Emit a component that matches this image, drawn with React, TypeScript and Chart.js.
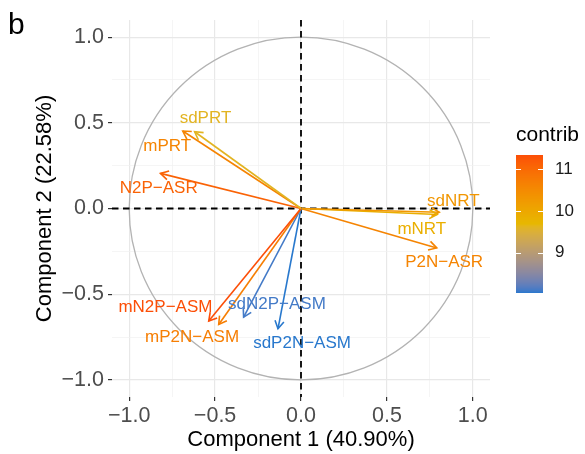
import React, { useEffect, useRef } from "react";
import { Chart, registerables } from "chart.js";
Chart.register(...registerables);

// ---- data ----
const variables = ["sdPRT", "mPRT", "N2P−ASR", "mN2P−ASM", "mP2N−ASM", "sdN2P−ASM", "sdP2N−ASM", "sdNRT", "mNRT", "P2N−ASR"];
const dim1 = [-0.619, -0.688, -0.818, -0.537, -0.479, -0.334, -0.134, 0.805, 0.793, 0.79];
const dim2 = [0.448, 0.452, 0.205, -0.657, -0.677, -0.634, -0.702, -0.022, -0.035, -0.23];
const contrib = [9.6, 10.6, 11.1, 11.34, 10.7, 8.1, 8.03, 10.3, 9.85, 10.6];
const labelX = [-0.556, -0.779, -0.828, -0.789, -0.634, -0.14, 0.006, 0.887, 0.703, 0.833];
const labelY = [0.526, 0.36, 0.117, -0.579, -0.754, -0.56, -0.789, 0.044, -0.121, -0.312];
const gridValues = [-1, -0.75, -0.5, -0.25, 0, 0.25, 0.5, 0.75, 1];
const legendTicks = [9, 10, 11];
const gradientCols = ["#2878CD", "#E7B800", "#FC4E07"];
const xTitle = "Component 1 (40.90%)";
const yTitle = "Component 2 (22.58%)";
const panelTag = "b";
const legendTitle = "contrib";

const FONT = "'Liberation Sans', Arial, Helvetica, sans-serif";

// ---- Lab colour interpolation ----
function hexToRgb(h: string) {
  const n = parseInt(h.slice(1), 16);
  return [(n >> 16) & 255, (n >> 8) & 255, n & 255];
}
const toLin = (c: number) => { c /= 255; return c <= 0.04045 ? c / 12.92 : Math.pow((c + 0.055) / 1.055, 2.4); };
const fromLin = (c: number) => {
  const v = c <= 0.0031308 ? 12.92 * c : 1.055 * Math.pow(c, 1 / 2.4) - 0.055;
  return Math.round(Math.max(0, Math.min(1, v)) * 255);
};
function rgbToLab(rgb: number[]) {
  const [R, G, B] = rgb.map(toLin);
  const X = (0.4124 * R + 0.3576 * G + 0.1805 * B) / 0.95047;
  const Y = 0.2126 * R + 0.7152 * G + 0.0722 * B;
  const Z = (0.0193 * R + 0.1192 * G + 0.9505 * B) / 1.08883;
  const f = (t: number) => (t > 0.008856 ? Math.cbrt(t) : 7.787 * t + 16 / 116);
  const fx = f(X), fy = f(Y), fz = f(Z);
  return [116 * fy - 16, 500 * (fx - fy), 200 * (fy - fz)];
}
function labToRgb(lab: number[]) {
  const [L, a, b] = lab;
  const fy = (L + 16) / 116, fx = fy + a / 500, fz = fy - b / 200;
  const fi = (t: number) => (t * t * t > 0.008856 ? t * t * t : (t - 16 / 116) / 7.787);
  const X = fi(fx) * 0.95047, Y = fi(fy), Z = fi(fz) * 1.08883;
  const R = 3.2406 * X - 1.5372 * Y - 0.4986 * Z;
  const G = -0.9689 * X + 1.8758 * Y + 0.0415 * Z;
  const B2 = 0.0557 * X - 0.204 * Y + 1.057 * Z;
  return `rgb(${fromLin(R)},${fromLin(G)},${fromLin(B2)})`;
}
const labStops = gradientCols.map((c) => rgbToLab(hexToRgb(c)));
const cMin = Math.min(...contrib);
const cMax = Math.max(...contrib);
function colorFor(v: number) {
  let t = (v - cMin) / (cMax - cMin);
  t = Math.max(0, Math.min(1, t));
  const seg = t < 0.5 ? 0 : 1;
  const lt = t < 0.5 ? t / 0.5 : (t - 0.5) / 0.5;
  const A = labStops[seg], B = labStops[seg + 1];
  return labToRgb([A[0] + (B[0] - A[0]) * lt, A[1] + (B[1] - A[1]) * lt, A[2] + (B[2] - A[2]) * lt]);
}

const fmt = (v: number) => (Math.abs(v) < 1e-9 ? "0.0" : (v < 0 ? "−" : "") + Math.abs(v).toFixed(1));
const isMajor = (v: number) => Math.abs(v * 2 - Math.round(v * 2)) < 1e-9;

const decorPlugin = {
  id: "decor",
  beforeDatasetsDraw(chart: any) {
    const { ctx, chartArea: ca, scales } = chart;
    const xs = scales.x, ys = scales.y;
    const cx = xs.getPixelForValue(0), cy = ys.getPixelForValue(0);
    const rx = xs.getPixelForValue(1) - cx, ry = cy - ys.getPixelForValue(1);
    ctx.save();
    ctx.strokeStyle = "#b3b3b3";
    ctx.lineWidth = 1.3;
    ctx.beginPath();
    ctx.ellipse(cx, cy, rx, ry, 0, 0, Math.PI * 2);
    ctx.stroke();
    ctx.strokeStyle = "#000";
    ctx.lineWidth = 1.8;
    ctx.setLineDash([6.5, 4.5]);
    ctx.beginPath();
    ctx.moveTo(ca.left, cy);
    ctx.lineTo(ca.right, cy);
    ctx.moveTo(cx, ca.top);
    ctx.lineTo(cx, ca.bottom);
    ctx.stroke();
    ctx.restore();
  },
  afterDatasetsDraw(chart: any) {
    const { ctx, scales } = chart;
    ctx.save();
    chart.data.datasets.forEach((ds: any, i: number) => {
      const meta = chart.getDatasetMeta(i);
      const p0 = meta.data[0], p1 = meta.data[1];
      const ang = Math.atan2(p1.y - p0.y, p1.x - p0.x);
      const L = 9, a = Math.PI / 6;
      ctx.strokeStyle = ds.borderColor;
      ctx.lineWidth = 1.6;
      ctx.beginPath();
      ctx.moveTo(p1.x - L * Math.cos(ang - a), p1.y - L * Math.sin(ang - a));
      ctx.lineTo(p1.x, p1.y);
      ctx.lineTo(p1.x - L * Math.cos(ang + a), p1.y - L * Math.sin(ang + a));
      ctx.stroke();
    });
    ctx.font = `17px ${FONT}`;
    ctx.textAlign = "center";
    ctx.textBaseline = "middle";
    variables.forEach((name, i) => {
      ctx.fillStyle = colorFor(contrib[i]);
      ctx.fillText(name, scales.x.getPixelForValue(labelX[i]), scales.y.getPixelForValue(labelY[i]));
    });
    ctx.restore();
  },
  afterDraw(chart: any) {
    const { ctx, chartArea: ca } = chart;
    ctx.save();
    // panel tag
    ctx.fillStyle = "#000";
    ctx.font = `30px ${FONT}`;
    ctx.textAlign = "left";
    ctx.textBaseline = "alphabetic";
    ctx.fillText(panelTag, 8, 34);
    // legend
    const bx = ca.right + 26, bw = 27, bTop = 155, bBot = 293;
    ctx.font = `21px ${FONT}`;
    ctx.textBaseline = "middle";
    ctx.fillText(legendTitle, bx, 135);
    const vy = (v: number) => bBot - ((v - cMin) / (cMax - cMin)) * (bBot - bTop);
    for (let y = bTop; y < bBot; y++) {
      const v = cMin + ((bBot - (y + 0.5)) / (bBot - bTop)) * (cMax - cMin);
      ctx.fillStyle = colorFor(v);
      ctx.fillRect(bx, y, bw, 1);
    }
    ctx.strokeStyle = "#fff";
    ctx.lineWidth = 1;
    ctx.font = `17px ${FONT}`;
    legendTicks.forEach((t) => {
      const y = Math.round(vy(t)) + 0.5;
      ctx.beginPath();
      ctx.moveTo(bx, y); ctx.lineTo(bx + 5, y);
      ctx.moveTo(bx + bw - 5, y); ctx.lineTo(bx + bw, y);
      ctx.stroke();
      ctx.fillStyle = "#1a1a1a";
      ctx.fillText(String(t), bx + bw + 12, vy(t));
    });
    ctx.restore();
  },
};

function axis(titleText: string, horizontal: boolean) {
  return {
    type: "linear" as const,
    min: -1.1,
    max: 1.1,
    afterBuildTicks: (s: any) => { s.ticks = gridValues.map((v) => ({ value: v })); },
    afterFit: (s: any) => { if (horizontal) s.height = 57; else s.width = 112; },
    border: { display: false },
    grid: {
      color: (c: any) => (c.tick && isMajor(c.tick.value) ? "#e8e8e8" : "#f0f0f0"),
      lineWidth: (c: any) => (c.tick && isMajor(c.tick.value) ? 1.2 : 0.7),
      tickColor: (c: any) => (c.tick && isMajor(c.tick.value) ? "#333333" : "rgba(0,0,0,0)"),
      tickLength: 4,
    },
    ticks: {
      autoSkip: false,
      maxRotation: 0,
      padding: horizontal ? 2 : 4,
      color: "#4d4d4d",
      font: { size: 21.5, family: FONT },
      callback: (v: any) => (isMajor(Number(v)) ? fmt(Number(v)) : ""),
    },
    title: {
      display: true,
      text: titleText,
      color: "#000",
      font: { size: 22, family: FONT },
      padding: horizontal ? { top: 0, bottom: 1 } : { top: 32, bottom: 0 },
    },
  };
}

export default function App() {
  const ref = useRef<HTMLCanvasElement>(null);
  useEffect(() => {
    const datasets = variables.map((name, i) => ({
      label: name,
      data: [{ x: 0, y: 0 }, { x: dim1[i], y: dim2[i] }],
      borderColor: colorFor(contrib[i]),
      borderWidth: 1.6,
      pointRadius: 0,
      showLine: true,
      fill: false,
    }));
    const chart = new Chart(ref.current!, {
      type: "scatter",
      data: { datasets },
      options: {
        animation: false,
        responsive: true,
        maintainAspectRatio: false,
        layout: { padding: { top: 20, right: 95, left: 0, bottom: 0 } },
        plugins: { legend: { display: false }, tooltip: { enabled: false } },
        scales: { x: axis(xTitle, true), y: axis(yTitle, false) },
      },
      plugins: [decorPlugin],
    } as any);
    return () => chart.destroy();
  }, []);
  return (
    <div style={{ position: "absolute", left: 0, top: 0, width: 585, height: 454, background: "#fff" }}>
      <canvas ref={ref} />
    </div>
  );
}
